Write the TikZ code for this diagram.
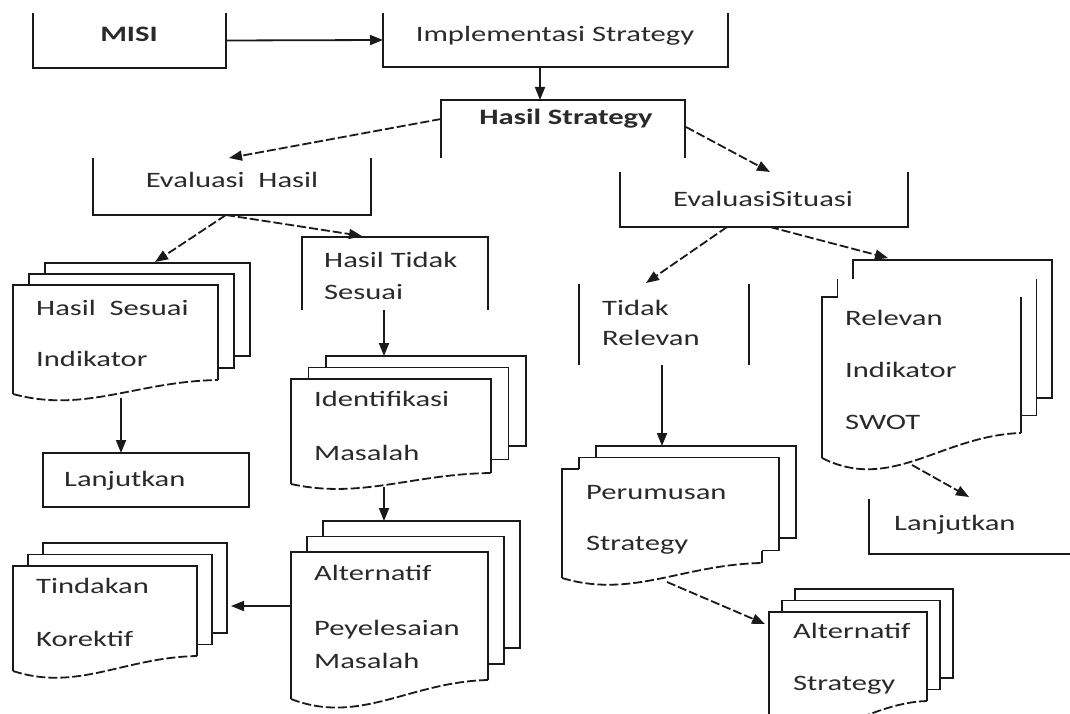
\documentclass[tikz,border=0pt]{standalone}
\usepackage{fontspec}
\setmainfont{Carlito}[FakeStretch=1.39]
\usetikzlibrary{arrows.meta}
\definecolor{ink}{HTML}{1A1A1A}
\definecolor{txt}{HTML}{2A2A2A}
\tikzset{
  ln/.style={draw=ink, line width=1.8pt, line join=miter},
  dsh/.style={dash pattern=on 9pt off 3pt},
  arr/.style={ln, -{Triangle[length=13pt,width=10pt]}},
  area/.style={draw=none, inner sep=0pt, outer sep=0pt},
  lbl/.style={text=txt, font=\fontsize{22}{26}\selectfont, inner sep=0pt, anchor=base west},
  clbl/.style={lbl, anchor=base},
  blbl/.style={clbl, font=\bfseries\fontsize{22}{26}\selectfont},
}
% multidocument shape: offsets and mode
\newcommand\mdset[4]{\def\mdx{#1}\def\mdy{#2}\def\mdyb{#3}\def\mdmode{#4}}
% #1 name, #2 L, #3 T, #4 R, #5 bottom-right y, #6 bottom-left y
\newcommand\mdoc[6]{%
  \pgfmathsetmacro\mdw{#4-#2}%
  \pgfmathsetmacro\mdh{#6-#5}%
  \pgfmathsetmacro\mdhh{#6-#3}%
  \node[area, anchor=north west, minimum width=\mdw pt, minimum height=\mdhh pt] (#1) at (#2,#3) {};
  \ifnum\mdmode=0\relax
    \draw[ln] (#2,#6) -- (#2,#3) -- (#4,#3) -- (#4,#5);
  \fi
  \ifnum\mdmode=1\relax
    \draw[ln] (#2,#6) -- (#2,#3) -- ({#2+\mdx},#3);
    \draw[ln] (#4,{#5-\mdyb}) -- (#4,#5);
  \fi
  \ifnum\mdmode=2\relax
    \draw[ln] (#2,#6) -- (#2,#3) -- ({#2+\mdx},#3);
    \draw[ln] (#4,#3) -- (#4,#5);
  \fi
  \draw[ln,dsh] (#2,#6) .. controls ({#2+0.35*\mdw},{#6+1.4*\mdh}) and ({#2+0.6*\mdw},{#5+0.1*\mdh}) .. (#4,#5);
  \ifnum\mdmode=2\relax
    \draw[ln] ({#2+\mdx},#3) -- ({#2+\mdx},{#3-\mdy});
    \draw[ln] ({#4+\mdx},{#3-\mdy}) -- ({#4+\mdx},{#5-\mdyb}) -- (#4,{#5-\mdyb});
  \else
    \draw[ln] ({#2+\mdx},#3) -- ({#2+\mdx},{#3-\mdy}) -- ({#4+\mdx},{#3-\mdy}) -- ({#4+\mdx},{#5-\mdyb}) -- (#4,{#5-\mdyb});
  \fi
  \draw[ln] ({#2+2*\mdx},{#3-\mdy}) -- ({#2+2*\mdx},{#3-2*\mdy}) -- ({#4+2*\mdx},{#3-2*\mdy}) -- ({#4+2*\mdx},{#5-2*\mdyb}) -- ({#4+\mdx},{#5-2*\mdyb});
}
\begin{document}
\begin{tikzpicture}[x=1pt,y=-1pt]
\useasboundingbox[fill=white] (0,0) rectangle (1070,714);

% ---------- top row ----------
\node[area, minimum width=193pt, minimum height=55pt] (misi) at (129.5,40.5) {};
\draw[ln] (misi.north west) -- (misi.south west) -- (misi.south east) -- (misi.north east);
\node[blbl] (misit) at (129,42) {MISI};

\node[area, minimum width=345pt, minimum height=54pt] (impl) at (555.5,40) {};
\draw[ln] (impl.north west) -- (impl.south west) -- (impl.south east) -- (impl.north east);
\node[clbl] (implt) at (555,42) {Implementasi Strategy};

\node[area, minimum width=244pt, minimum height=58pt] (hasil) at (563,129) {};
\draw[ln] (hasil.south west) -- (hasil.north west) -- (hasil.north east) -- (hasil.south east);
\node[blbl] (hasilt) at (566,125) {Hasil Strategy};

\node[area, minimum width=278pt, minimum height=57pt] (evh) at (232,186.5) {};
\draw[ln] (evh.north west) -- (evh.south west) -- (evh.south east) -- (evh.north east);
\node[clbl] (evht) at (232,188) {Evaluasi~ Hasil};

\node[area, minimum width=288pt, minimum height=55pt] (evs) at (764,199.5) {};
\draw[ln] (evs.north west) -- (evs.south west) -- (evs.south east) -- (evs.north east);
\node[clbl] (evst) at (763,207) {EvaluasiSituasi};

% ---------- left branch ----------
\node[area, minimum width=186pt, minimum height=73pt] (hts) at (395,273.5) {};
\draw[ln] (hts.south west) -- (hts.north west) -- (hts.north east) -- (hts.south east);
\node[lbl] (htst1) at (324,267) {Hasil Tidak};
\node[lbl] (htst2) at (324,299) {Sesuai};

\mdset{16}{11}{12}{0}
\mdoc{hs}{13}{285}{218}{380}{394}
\node[lbl] (hst1) at (36,315) {Hasil~ Sesuai};
\node[lbl] (hst2) at (36,366) {Indikator};

\node[area, minimum width=206pt, minimum height=54pt] (lj1) at (146,480) {};
\draw[ln] (lj1.north west) rectangle (lj1.south east);
\node[lbl] (lj1t) at (64,486) {Lanjutkan};

\mdset{17.5}{11.5}{13.5}{0}
\mdoc{idm}{291}{379}{491}{473}{484}
\node[lbl] (idmt1) at (314,406) {Identifikasi};
\node[lbl] (idmt2) at (314,460) {Masalah};

\mdset{16}{15.5}{16}{0}
\mdoc{apm}{291}{552}{488}{680}{699}
\node[lbl] (apmt1) at (314,580) {Alternatif};
\node[lbl] (apmt2) at (314,635) {Peyelesaian};
\node[lbl] (apmt3) at (314,668) {Masalah};

\mdset{15}{11.5}{11.5}{0}
\mdoc{tk}{13}{566}{197}{656}{671}
\node[lbl] (tkt1) at (36,593) {Tindakan};
\node[lbl] (tkt2) at (36,646) {Korektif};

% ---------- right branch ----------
\node[area, minimum width=170pt, minimum height=81pt] (tr) at (664,324.5) {};
\draw[ln] (tr.north west) -- (tr.south west);
\draw[ln] (tr.north east) -- (tr.south east);
\node[lbl] (trt1) at (602,315) {Tidak};
\node[lbl] (trt2) at (602,345) {Relevan};

\mdset{17}{11.5}{12.5}{1}
\mdoc{ps}{562}{469}{762}{563}{578}
\node[lbl] (pst1) at (586,499) {Perumusan};
\node[lbl] (pst2) at (586,550) {Strategy};

\mdset{15.5}{18.5}{17.5}{2}
\mdoc{rs}{822}{297}{1021}{433}{458}
\node[lbl] (rst1) at (845,325) {Relevan};
\node[lbl] (rst2) at (845,377) {Indikator};
\node[lbl] (rst3) at (845,429) {SWOT};

\node[area, minimum width=201pt, minimum height=55pt] (lj2) at (969.5,526.5) {};
\draw[ln] (lj2.north west) -- (lj2.south west) -- (lj2.south east);
\node[lbl] (lj2t) at (894,530) {Lanjutkan};

\mdset{13}{11.5}{11.5}{0}
\mdoc{as}{769}{612}{927}{701}{722}
\node[lbl] (ast1) at (793,638) {Alternatif};
\node[lbl] (ast2) at (793,690) {Strategy};

% ---------- connector end points ----------
\coordinate (c-impl-s) at (540,67);
\coordinate (c-hasil-n) at (540,100);
\coordinate (c-hasil-w) at (441,119);
\coordinate (c-evh-n) at (229,158);
\coordinate (c-hasil-e) at (686,127);
\coordinate (c-evs-n) at (770,172);
\coordinate (c-evh-s) at (226,215);
\coordinate (c-hs-n) at (155,262);
\coordinate (c-hts-n) at (362,236);
\coordinate (c-hs-s) at (121,398);
\coordinate (c-lj1-n) at (121,453);
\coordinate (c-hts-s) at (384,310);
\coordinate (c-idm-n) at (384,356);
\coordinate (c-idm-s) at (384,487);
\coordinate (c-apm-n) at (384,521);
\coordinate (c-apm-w) at (291,606);
\coordinate (c-tk-e) at (231,606);
\coordinate (c-evs-s1) at (727,227);
\coordinate (c-tr-n) at (646,283);
\coordinate (c-evs-s2) at (770,227);
\coordinate (c-rs-n) at (888,258);
\coordinate (c-tr-s) at (662,365);
\coordinate (c-ps-n) at (662,446);
\coordinate (c-ps-s) at (667,582);
\coordinate (c-as-nw) at (765,624);
\coordinate (c-rs-s) at (912,465);
\coordinate (c-lj2-n) at (969,497);

% ---------- connectors ----------
\draw[arr] (misi.east) -- (impl.west);
\draw[arr] (c-impl-s) -- (c-hasil-n);
\draw[arr,dsh] (c-hasil-w) -- (c-evh-n);
\draw[arr,dsh] (c-hasil-e) -- (c-evs-n);
\draw[arr,dsh] (c-evh-s) -- (c-hs-n);
\draw[arr,dsh] (c-evh-s) -- (c-hts-n);
\draw[arr] (c-hs-s) -- (c-lj1-n);
\draw[arr] (c-hts-s) -- (c-idm-n);
\draw[arr] (c-idm-s) -- (c-apm-n);
\draw[arr] (c-apm-w) -- (c-tk-e);
\draw[arr,dsh] (c-evs-s1) -- (c-tr-n);
\draw[arr,dsh] (c-evs-s2) -- (c-rs-n);
\draw[arr] (c-tr-s) -- (c-ps-n);
\draw[arr,dsh] (c-ps-s) -- (c-as-nw);
\draw[arr,dsh] (c-rs-s) -- (c-lj2-n);
\end{tikzpicture}
\end{document}
